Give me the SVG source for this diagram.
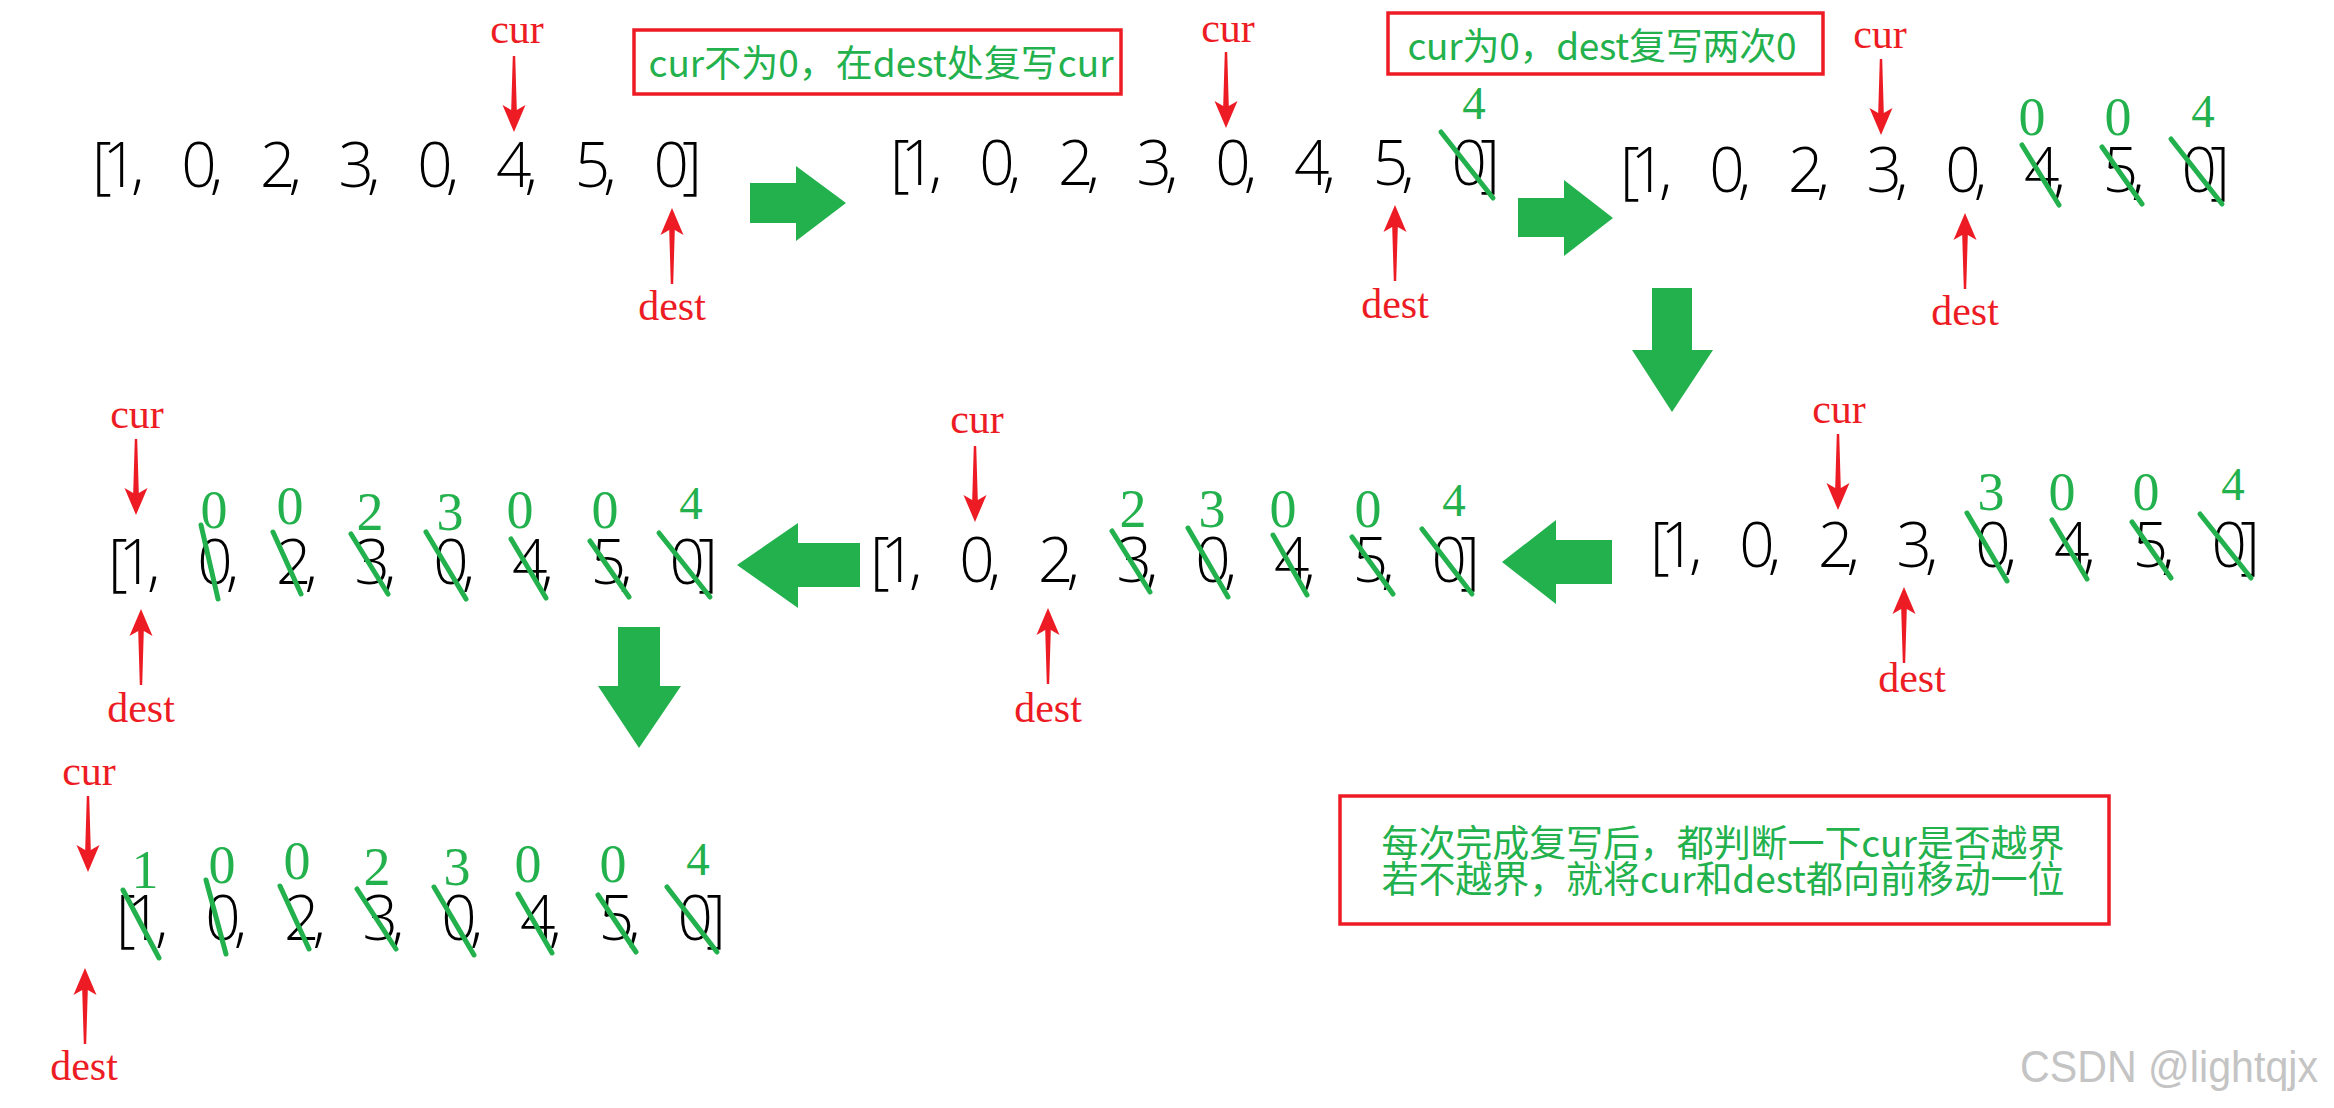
<svg xmlns="http://www.w3.org/2000/svg" xmlns:xlink="http://www.w3.org/1999/xlink" width="2334" height="1108" viewBox="0 0 2334 1108">
<style>
.arr{font-family:"Open Sans","Noto Sans","DejaVu Sans",sans-serif;font-weight:300;font-size:62px;fill:#000}
.g{font-family:"Liberation Serif",serif;font-size:54px;fill:#22B14C;text-anchor:middle}
.g4{font-size:47px}
.lbl{font-family:"Liberation Serif",serif;font-size:42px;fill:#ED1C24;text-anchor:middle}
.st{stroke:#22B14C;stroke-width:5;stroke-linecap:round;fill:none}
.box{fill:none;stroke:#ED1C24;stroke-width:3.5}
.note{font-family:"Noto Sans CJK SC",sans-serif;font-size:37px;fill:#22B14C;text-anchor:middle;dominant-baseline:central}
.ga{fill:#22B14C}
.ra{fill:#ED1C24}
.wm{font-family:"Liberation Sans",Arial,sans-serif;font-size:44px;fill:#c4c4c4}
</style>
<defs>
<path id="redArrow" class="ra" d="M-1.2,-76 L1.2,-76 L2.8,-22 L11.5,-27 L0,0 L-11.5,-27 L-2.8,-22 Z"/>
</defs>
<rect width="2334" height="1108" fill="#fff"/>

<g id="step1">
<g transform="translate(95,187)"><text class="arr" x="-3 7.5 36 51 86.2 114.7 130 164.9 193.4 208 243.6 272.1 287 322.3 350.8 366 401 429.5 445 479.7 508.2 523 558.4 587" y="0">[1, 0, 2, 3, 0, 4, 5, 0]</text></g>
<text class="lbl" x="517" y="43">cur</text>
<use xlink:href="#redArrow" transform="translate(514,132)"/>
<use xlink:href="#redArrow" transform="translate(672,208) scale(1,-1)"/>
<text class="lbl" x="672" y="320">dest</text>
</g>

<g id="note1">
<rect class="box" x="634" y="30" width="487" height="64"/>
<text class="note" x="881" y="61" textLength="465">cur不为0，在dest处复写cur</text>
</g>

<g id="step2">
<g transform="translate(893,185)"><text class="arr" x="-3 7.5 36 51 86.2 114.7 130 164.9 193.4 208 243.6 272.1 287 322.3 350.8 366 401 429.5 445 479.7 508.2 523 558.4 587" y="0">[1, 0, 2, 3, 0, 4, 5, 0]</text></g>
<text class="lbl" x="1228" y="42">cur</text>
<use xlink:href="#redArrow" transform="translate(1226,128)"/>
<text class="g g4" x="1474" y="119">4</text>
<line class="st" x1="1441" y1="132" x2="1493" y2="198"/>
<use xlink:href="#redArrow" transform="translate(1395,205) scale(1,-1)"/>
<text class="lbl" x="1395" y="318">dest</text>
</g>

<g id="note2">
<rect class="box" x="1388" y="13" width="435" height="61"/>
<text class="note" x="1602" y="44" textLength="389">cur为0，dest复写两次0</text>
</g>

<g id="step3">
<g transform="translate(1623,192)"><text class="arr" x="-3 7.5 36 51 86.2 114.7 130 164.9 193.4 208 243.6 272.1 287 322.3 350.8 366 401 429.5 445 479.7 508.2 523 558.4 587" y="0">[1, 0, 2, 3, 0, 4, 5, 0]</text></g>
<text class="lbl" x="1880" y="48">cur</text>
<use xlink:href="#redArrow" transform="translate(1881,135)"/>
<text class="g" x="2032" y="135">0</text>
<text class="g" x="2118" y="135">0</text>
<text class="g g4" x="2203" y="127">4</text>
<line class="st" x1="2022" y1="145" x2="2059" y2="205"/>
<line class="st" x1="2102" y1="147" x2="2142" y2="204"/>
<line class="st" x1="2171" y1="139" x2="2222" y2="204"/>
<use xlink:href="#redArrow" transform="translate(1965,213) scale(1,-1)"/>
<text class="lbl" x="1965" y="325">dest</text>
</g>

<g id="step4">
<g transform="translate(1653,567)"><text class="arr" x="-3 7.5 36 51 86.2 114.7 130 164.9 193.4 208 243.6 272.1 287 322.3 350.8 366 401 429.5 445 479.7 508.2 523 558.4 587" y="0">[1, 0, 2, 3, 0, 4, 5, 0]</text></g>
<text class="lbl" x="1839" y="423">cur</text>
<use xlink:href="#redArrow" transform="translate(1838,510)"/>
<text class="g" x="1991" y="510">3</text>
<text class="g" x="2062" y="510">0</text>
<text class="g" x="2146" y="510">0</text>
<text class="g g4" x="2233" y="500">4</text>
<line class="st" x1="1967" y1="513" x2="2007" y2="581"/>
<line class="st" x1="2052" y1="520" x2="2087" y2="579"/>
<line class="st" x1="2132" y1="522" x2="2171" y2="578"/>
<line class="st" x1="2200" y1="514" x2="2251" y2="578"/>
<use xlink:href="#redArrow" transform="translate(1904,587) scale(1,-1)"/>
<text class="lbl" x="1912" y="692">dest</text>
</g>

<g id="step5">
<g transform="translate(873,582)"><text class="arr" x="-3 7.5 36 51 86.2 114.7 130 164.9 193.4 208 243.6 272.1 287 322.3 350.8 366 401 429.5 445 479.7 508.2 523 558.4 587" y="0">[1, 0, 2, 3, 0, 4, 5, 0]</text></g>
<text class="lbl" x="977" y="433">cur</text>
<use xlink:href="#redArrow" transform="translate(975,522)"/>
<text class="g" x="1133" y="527">2</text>
<text class="g" x="1212" y="527">3</text>
<text class="g" x="1283" y="527">0</text>
<text class="g" x="1368" y="527">0</text>
<text class="g g4" x="1454" y="516">4</text>
<line class="st" x1="1112" y1="531" x2="1150" y2="592"/>
<line class="st" x1="1188" y1="528" x2="1228" y2="597"/>
<line class="st" x1="1273" y1="535" x2="1307" y2="595"/>
<line class="st" x1="1352" y1="537" x2="1393" y2="594"/>
<line class="st" x1="1422" y1="529" x2="1472" y2="594"/>
<use xlink:href="#redArrow" transform="translate(1048,608) scale(1,-1)"/>
<text class="lbl" x="1048" y="722">dest</text>
</g>

<g id="step6">
<g transform="translate(111,584)"><text class="arr" x="-3 7.5 36 51 86.2 114.7 130 164.9 193.4 208 243.6 272.1 287 322.3 350.8 366 401 429.5 445 479.7 508.2 523 558.4 587" y="0">[1, 0, 2, 3, 0, 4, 5, 0]</text></g>
<text class="lbl" x="137" y="428">cur</text>
<use xlink:href="#redArrow" transform="translate(136,515)"/>
<text class="g" x="214" y="528">0</text>
<text class="g" x="290" y="524">0</text>
<text class="g" x="370" y="530">2</text>
<text class="g" x="450" y="530">3</text>
<text class="g" x="520" y="528">0</text>
<text class="g" x="605" y="528">0</text>
<text class="g g4" x="691" y="519">4</text>
<line class="st" x1="201" y1="525" x2="218" y2="599"/>
<line class="st" x1="273" y1="532" x2="301" y2="594"/>
<line class="st" x1="351" y1="534" x2="388" y2="594"/>
<line class="st" x1="426" y1="532" x2="466" y2="599"/>
<line class="st" x1="511" y1="539" x2="546" y2="598"/>
<line class="st" x1="590" y1="541" x2="629" y2="597"/>
<line class="st" x1="659" y1="533" x2="710" y2="597"/>
<use xlink:href="#redArrow" transform="translate(141,609) scale(1,-1)"/>
<text class="lbl" x="141" y="722">dest</text>
</g>

<g id="step7">
<g transform="translate(119,940)"><text class="arr" x="-3 7.5 36 51 86.2 114.7 130 164.9 193.4 208 243.6 272.1 287 322.3 350.8 366 401 429.5 445 479.7 508.2 523 558.4 587" y="0">[1, 0, 2, 3, 0, 4, 5, 0]</text></g>
<text class="lbl" x="89" y="785">cur</text>
<use xlink:href="#redArrow" transform="translate(88,872)"/>
<text class="g" x="145" y="888">1</text>
<text class="g" x="222" y="883">0</text>
<text class="g" x="297" y="879">0</text>
<text class="g" x="377" y="885">2</text>
<text class="g" x="457" y="885">3</text>
<text class="g" x="528" y="882">0</text>
<text class="g" x="613" y="882">0</text>
<text class="g g4" x="698" y="875">4</text>
<line class="st" x1="123" y1="890" x2="159" y2="958"/>
<line class="st" x1="206" y1="880" x2="226" y2="954"/>
<line class="st" x1="280" y1="886" x2="309" y2="949"/>
<line class="st" x1="357" y1="889" x2="396" y2="949"/>
<line class="st" x1="434" y1="887" x2="474" y2="955"/>
<line class="st" x1="518" y1="894" x2="552" y2="953"/>
<line class="st" x1="598" y1="895" x2="636" y2="952"/>
<line class="st" x1="667" y1="887" x2="717" y2="952"/>
<use xlink:href="#redArrow" transform="translate(85,968) scale(1,-1)"/>
<text class="lbl" x="84" y="1080">dest</text>
</g>

<g id="note3">
<rect class="box" x="1340" y="796" width="769" height="128"/>
<text class="note" x="1723" y="841" textLength="683">每次完成复写后，都判断一下cur是否越界</text>
<text class="note" x="1723" y="877" textLength="683">若不越界，就将cur和dest都向前移动一位</text>
</g>

<g id="connectors">
<polygon class="ga" points="750,183 796,183 796,166 846,203 796,241 796,223 750,223"/>
<polygon class="ga" points="1518,198 1564,198 1564,180 1613,218 1564,256 1564,237 1518,237"/>
<polygon class="ga" points="1652,288 1692,288 1692,350 1713,350 1672,412 1632,350 1652,350"/>
<polygon class="ga" points="1612,540 1556,540 1556,520 1502,562 1556,604 1556,584 1612,584"/>
<polygon class="ga" points="860,543 798,543 798,523 737,565 798,608 798,587 860,587"/>
<polygon class="ga" points="618,627 660,627 660,686 681,686 639,748 598,686 618,686"/>
</g>

<text class="wm" x="2020" y="1082" textLength="298" lengthAdjust="spacingAndGlyphs">CSDN @lightqjx</text>
</svg>
